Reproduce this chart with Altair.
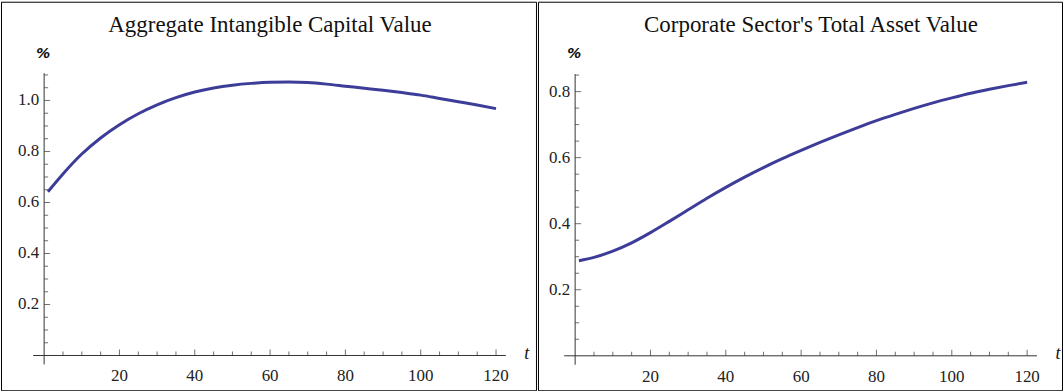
import altair as alt
import pandas as pd

# ---- data -------------------------------------------------------------
t_vals = [1, 5, 10, 15, 20, 25, 30, 35, 40, 45, 50, 55, 60, 65, 70, 75,
          80, 85, 90, 95, 100, 105, 110, 115, 120]

intangible = [0.642, 0.712, 0.790, 0.853, 0.905, 0.948, 0.983, 1.011, 1.033,
              1.049, 1.060, 1.067, 1.071, 1.072, 1.070, 1.064, 1.056, 1.048,
              1.040, 1.031, 1.021, 1.008, 0.995, 0.982, 0.968]

total_asset = [0.288, 0.298, 0.317, 0.342, 0.373, 0.407, 0.442, 0.477, 0.510,
               0.541, 0.570, 0.597, 0.622, 0.646, 0.669, 0.691, 0.712, 0.731,
               0.749, 0.766, 0.781, 0.795, 0.807, 0.818, 0.828]

x_major = [20, 40, 60, 80, 100, 120]
x_minor = [5, 10, 15, 25, 30, 35, 45, 50, 55, 65, 70, 75, 85, 90, 95, 105, 110, 115]

left_y_major = [0.2, 0.4, 0.6, 0.8, 1.0]
left_y_minor = [0.05, 0.1, 0.15, 0.25, 0.3, 0.35, 0.45, 0.5, 0.55, 0.65, 0.7,
                0.75, 0.85, 0.9, 0.95, 1.05, 1.1]
right_y_major = [0.2, 0.4, 0.6, 0.8]
right_y_minor = [0.05, 0.1, 0.15, 0.25, 0.3, 0.35, 0.45, 0.5, 0.55, 0.65, 0.7,
                 0.75, 0.85]

LINE_COLOR = "#3d3d99"
AXIS_COLOR = "#333333"
SERIF = "Liberation Serif"
H = 390


def panel(title, series, y_major, y_minor, width, x_range, y_dom, y_range,
          y_top, title_x):
    xs = alt.Scale(domain=[0, 120], range=x_range)
    ys = alt.Scale(domain=y_dom, range=y_range)

    line_df = pd.DataFrame({"t": t_vals, "v": series})
    line = alt.Chart(line_df).mark_line(
        color=LINE_COLOR, strokeWidth=3, interpolate="monotone"
    ).encode(
        x=alt.X("t:Q", scale=xs, axis=None),
        y=alt.Y("v:Q", scale=ys, axis=None),
    )

    # axes crossing at the origin, overshooting slightly past it
    xaxis_df = pd.DataFrame({"a": [-2.9], "b": [122.6], "v": [0.0]})
    xaxis = alt.Chart(xaxis_df).mark_rule(color=AXIS_COLOR, strokeWidth=1).encode(
        x=alt.X("a:Q", scale=xs, axis=None),
        x2="b:Q",
        y=alt.Y("v:Q", scale=ys, axis=None),
    )
    y_low = -9.0 / ((y_range[0] - y_range[1]) / (y_dom[1] - y_dom[0]))
    yaxis_df = pd.DataFrame({"t": [0.0], "a": [y_low], "b": [y_top]})
    yaxis = alt.Chart(yaxis_df).mark_rule(color=AXIS_COLOR, strokeWidth=1).encode(
        x=alt.X("t:Q", scale=xs, axis=None),
        y=alt.Y("a:Q", scale=ys, axis=None),
        y2="b:Q",
    )

    def xticks(vals, size):
        df = pd.DataFrame({"t": vals, "v": [0.0] * len(vals)})
        return alt.Chart(df).mark_tick(
            orient="vertical", size=size, thickness=1, yOffset=-size / 2,
            color=AXIS_COLOR
        ).encode(
            x=alt.X("t:Q", scale=xs, axis=None),
            y=alt.Y("v:Q", scale=ys, axis=None),
        )

    def yticks(vals, size):
        df = pd.DataFrame({"t": [0.0] * len(vals), "v": vals})
        return alt.Chart(df).mark_tick(
            orient="horizontal", size=size, thickness=1, xOffset=size / 2,
            color=AXIS_COLOR
        ).encode(
            x=alt.X("t:Q", scale=xs, axis=None),
            y=alt.Y("v:Q", scale=ys, axis=None),
        )

    xlab_df = pd.DataFrame({"t": x_major, "v": [0.0] * len(x_major),
                            "lab": [str(v) for v in x_major]})
    xlabels = alt.Chart(xlab_df).mark_text(
        font=SERIF, fontSize=17, color="#222222", dy=21, baseline="middle",
        align="center"
    ).encode(
        x=alt.X("t:Q", scale=xs, axis=None),
        y=alt.Y("v:Q", scale=ys, axis=None),
        text="lab:N",
    )

    ylab_df = pd.DataFrame({"t": [0.0] * len(y_major), "v": y_major,
                            "lab": [f"{v:.1f}" for v in y_major]})
    ylabels = alt.Chart(ylab_df).mark_text(
        font=SERIF, fontSize=17, color="#222222", dx=-5, baseline="middle",
        align="right"
    ).encode(
        x=alt.X("t:Q", scale=xs, axis=None),
        y=alt.Y("v:Q", scale=ys, axis=None),
        text="lab:N",
    )

    anchor = pd.DataFrame({"k": [0]})
    title_mark = alt.Chart(anchor).mark_text(
        font=SERIF, fontSize=23, color="#111111", align="center",
        baseline="middle", text=title
    ).encode(x=alt.value(title_x), y=alt.value(23))

    pct = alt.Chart(anchor).mark_text(
        font="DejaVu Sans", fontSize=14, fontWeight="bold", fontStyle="italic",
        color="#111111", align="center", baseline="middle", text="%"
    ).encode(x=alt.value(x_range[0] - 1), y=alt.value(52))

    tlab = alt.Chart(anchor).mark_text(
        font=SERIF, fontSize=18, fontStyle="italic", color="#111111",
        align="center", baseline="middle", text="t"
    ).encode(x=alt.value(x_range[0] + (x_range[1] - x_range[0]) * 125.0 / 120.0 + 12),
             y=alt.value(354))

    return alt.layer(
        xaxis, yaxis,
        xticks(x_minor, 4), xticks(x_major, 6),
        yticks(y_minor, 4), yticks(y_major, 6),
        xlabels, ylabels, line, title_mark, pct, tlab,
    ).properties(width=width, height=H)


left = panel("Aggregate Intangible Capital Value", intangible,
             left_y_major, left_y_minor, 537,
             [43.3, 496.9], [0, 1.0], [355.1, 99.1], 1.107, 270)
right = panel("Corporate Sector's Total Asset Value", total_asset,
              right_y_major, right_y_minor, 526,
              [37.3, 491.0], [0, 0.8], [355.4, 90.2], 0.853, 274)

chart = alt.hconcat(left, right, spacing=0).properties(
    padding=0, background="white"
).configure_view(stroke="black", strokeWidth=1)

chart.save("out.html", embed_options={"renderer": "svg", "actions": False})
